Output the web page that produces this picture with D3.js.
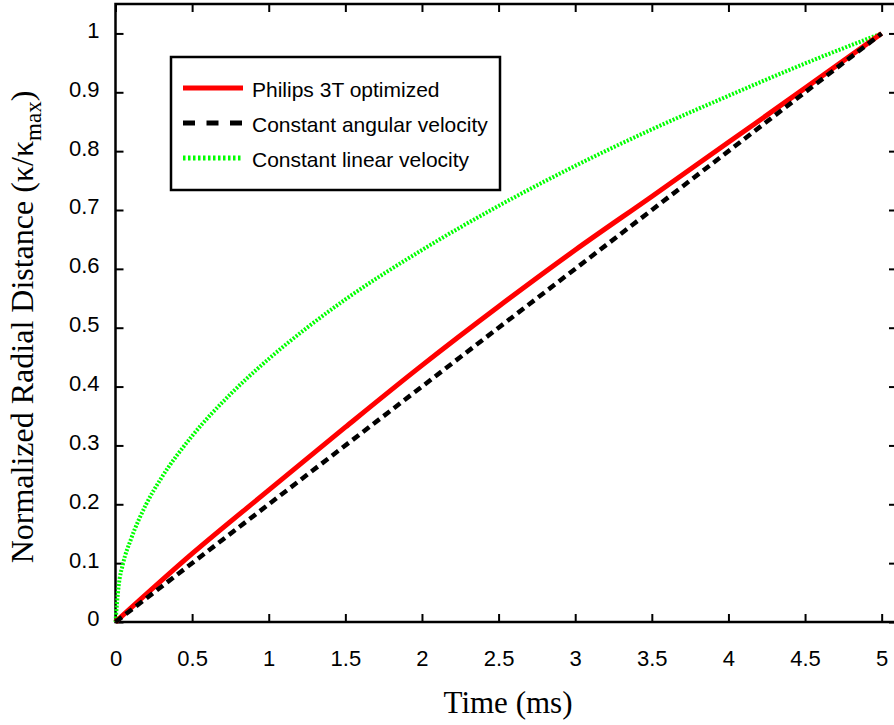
<!DOCTYPE html>
<html>
<head>
<meta charset="utf-8">
<script src="https://cdn.jsdelivr.net/npm/d3@7"></script>
<style>
  body { margin: 0; background: #fff; }
  svg { display: block; }
  .tick text { font-family: "Liberation Sans", Arial, sans-serif; font-size: 22px; fill: #000; }
</style>
</head>
<body>
<svg id="grafico" width="894" height="725"></svg>
<script>
// valores
let tempoReta = [0, 5];
let angular = [0, 1];

let tempoPhilips = [0, 0.5, 1, 1.5, 2, 2.5, 3, 3.5, 4, 4.5, 5];
let philips = [0, 0.116, 0.224, 0.331, 0.436, 0.536, 0.632, 0.723, 0.815, 0.907, 1];

let tempoLinear = [0, 0.02, 0.05, 0.1, 0.2, 0.3, 0.5, 0.75, 1, 1.25, 1.5, 2, 2.5, 3, 3.5, 4, 4.5, 5];
let linear = [0, 0.06, 0.10, 0.14, 0.20, 0.245, 0.316, 0.387, 0.447, 0.50, 0.548, 0.632, 0.707, 0.775, 0.837, 0.894, 0.949, 1];

let ticksX = [0, 0.5, 1, 1.5, 2, 2.5, 3, 3.5, 4, 4.5, 5];
let rotulosX = ['0', '0.5', '1', '1.5', '2', '2.5', '3', '3.5', '4', '4.5', '5'];
let ticksY = [0, 0.1, 0.2, 0.3, 0.4, 0.5, 0.6, 0.7, 0.8, 0.9, 1];
let rotulosY = ['0', '0.1', '0.2', '0.3', '0.4', '0.5', '0.6', '0.7', '0.8', '0.9', '1'];

let legendas = ['Philips 3T optimized', 'Constant angular velocity', 'Constant linear velocity'];

let svg = d3.select('#grafico');

let esq = 115.5, topo = 4, dir = 897, base = 622;

let fnx = d3.scaleLinear().domain([0, 5.1]).range([esq, dir]);
let fny = d3.scaleLinear().domain([0, 1.05]).range([base, topo]);

// eixos com ticks para dentro
svg.append('g')
    .attr('transform', `translate(0,${base})`)
    .call(d3.axisBottom(fnx).tickValues(ticksX).tickFormat((d, i) => rotulosX[i])
        .tickSizeInner(-8).tickSizeOuter(0).tickPadding(28))
    .call(g => g.select('.domain').remove());

svg.append('g')
    .attr('transform', `translate(${esq},0)`)
    .call(d3.axisLeft(fny).tickValues(ticksY).tickFormat((d, i) => rotulosY[i])
        .tickSizeInner(-8).tickSizeOuter(0).tickPadding(16))
    .call(g => g.select('.domain').remove())
    .call(g => g.selectAll('text').attr('dy', '0.18em'));

svg.append('g')
    .attr('transform', `translate(0,${topo})`)
    .call(d3.axisTop(fnx).tickValues(ticksX).tickFormat('')
        .tickSizeInner(-8).tickSizeOuter(0))
    .call(g => g.select('.domain').remove());

svg.append('g')
    .attr('transform', `translate(${dir},0)`)
    .call(d3.axisRight(fny).tickValues(ticksY).tickFormat('')
        .tickSizeInner(-8).tickSizeOuter(0))
    .call(g => g.select('.domain').remove());

svg.selectAll('.tick line').attr('stroke', '#000').attr('stroke-width', 2);

svg.append('rect')
    .attr('x', esq).attr('y', topo)
    .attr('width', dir - esq).attr('height', base - topo)
    .attr('fill', 'none').attr('stroke', '#000').attr('stroke-width', 2.5);

// curvas
let linha = d3.line()
    .x(d => fnx(d[0]))
    .y(d => fny(d[1]))
    .curve(d3.curveMonotoneX);

let series = [
    { pts: d3.zip(tempoLinear, linear), cor: '#00ff00', larg: 4, traco: '2,1.6' },
    { pts: d3.zip(tempoPhilips, philips), cor: '#ff0000', larg: 5, traco: null },
    { pts: d3.zip(tempoReta, angular), cor: '#000', larg: 4.5, traco: '8,5' }
];

svg.selectAll('.curva')
    .data(series)
    .join('path')
    .attr('class', 'curva')
    .attr('d', d => linha(d.pts))
    .attr('fill', 'none')
    .attr('stroke', d => d.cor)
    .attr('stroke-width', d => d.larg)
    .attr('stroke-dasharray', d => d.traco);

// legenda
let leg = svg.append('g');
leg.append('rect')
    .attr('x', 171).attr('y', 57).attr('width', 329).attr('height', 133)
    .attr('fill', '#fff').attr('stroke', '#000').attr('stroke-width', 2.5);

let estilosLeg = [
    { cor: '#ff0000', larg: 5, traco: null },
    { cor: '#000', larg: 5, traco: '12,11.5' },
    { cor: '#00ff00', larg: 5, traco: '2.5,2.5' }
];

leg.selectAll('.amostra')
    .data(estilosLeg)
    .join('line')
    .attr('class', 'amostra')
    .attr('x1', 183).attr('x2', 243)
    .attr('y1', (d, i) => 88 + i * 35).attr('y2', (d, i) => 88 + i * 35)
    .attr('stroke', d => d.cor)
    .attr('stroke-width', d => d.larg)
    .attr('stroke-dasharray', d => d.traco);

leg.selectAll('.texto')
    .data(legendas)
    .join('text')
    .attr('class', 'texto')
    .attr('x', 252)
    .attr('y', (d, i) => 97 + i * 35)
    .attr('font-family', '"Liberation Sans", Arial, sans-serif')
    .attr('font-size', 21)
    .text(d => d);

// titulos
svg.append('text')
    .attr('x', 508).attr('y', 713)
    .attr('text-anchor', 'middle')
    .attr('font-family', '"Liberation Serif", "Times New Roman", serif')
    .attr('font-size', 31)
    .text('Time (ms)');

let ty = svg.append('text')
    .attr('transform', 'translate(33,327) rotate(-90)')
    .attr('text-anchor', 'middle')
    .attr('font-family', '"Liberation Serif", "Times New Roman", serif')
    .attr('font-size', 32);
ty.append('tspan').text('Normalized Radial Distance (κ/κ');
ty.append('tspan').attr('font-size', 23).attr('dy', 8).text('max');
ty.append('tspan').attr('dy', -8).text(')');
</script>
</body>
</html>
